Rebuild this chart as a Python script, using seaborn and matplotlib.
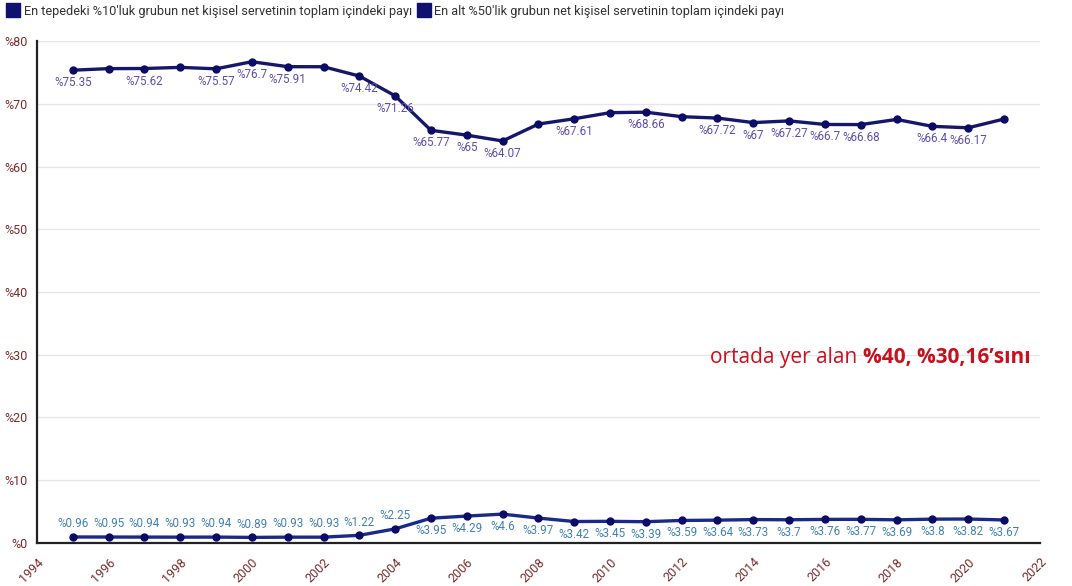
import matplotlib
matplotlib.use("Agg")
from matplotlib import pyplot as plt
from matplotlib.lines import Line2D
import numpy as np
import pandas
import seaborn as sns

# data
years = list(range(1995, 2022))
top10_share = [75.35, 75.6, 75.62, 75.8, 75.57, 76.7, 75.91, 75.9, 74.42, 71.26,
               65.77, 65.0, 64.07, 66.77, 67.61, 68.58, 68.66, 67.94, 67.72, 67.0,
               67.27, 66.7, 66.68, 67.5, 66.4, 66.17, 67.57]
top10_labels = ["%75.35", None, "%75.62", None, "%75.57", "%76.7", "%75.91", None, "%74.42", "%71.26",
                "%65.77", "%65", "%64.07", None, "%67.61", None, "%68.66", None, "%67.72", "%67",
                "%67.27", "%66.7", "%66.68", None, "%66.4", "%66.17", None]
bottom50_share = [0.96, 0.95, 0.94, 0.93, 0.94, 0.89, 0.93, 0.93, 1.22, 2.25,
                  3.95, 4.29, 4.6, 3.97, 3.42, 3.45, 3.39, 3.59, 3.64, 3.73,
                  3.7, 3.76, 3.77, 3.69, 3.8, 3.82, 3.67]
bottom50_labels = ["%0.96", "%0.95", "%0.94", "%0.93", "%0.94", "%0.89", "%0.93", "%0.93", "%1.22", "%2.25",
                   "%3.95", "%4.29", "%4.6", "%3.97", "%3.42", "%3.45", "%3.39", "%3.59", "%3.64", "%3.73",
                   "%3.7", "%3.76", "%3.77", "%3.69", "%3.8", "%3.82", "%3.67"]
series_names = ["En tepedeki %10'luk grubun net kişisel servetinin toplam içindeki payı",
                "En alt %50'lik grubun net kişisel servetinin toplam içindeki payı"]
x_ticks = list(range(1994, 2023, 2))
y_ticks = list(range(0, 81, 10))

df = pandas.DataFrame({"Yıl": years, "top": top10_share, "bottom": bottom50_share})

sns.set_style("white")
plt.rcParams['font.family'] = ['Roboto', 'DejaVu Sans']

fig = plt.figure(figsize=(10.72, 5.86), dpi=100)
ax = fig.add_axes([0.0345, 0.0734, 0.9355, 0.8566])

navy_top = "#16166a"
navy_bottom = "#1a2a8a"
sns.lineplot(data=df, x="Yıl", y="top", ax=ax, color=navy_top, linewidth=2.4,
             marker="o", markersize=6, markeredgewidth=0, markerfacecolor="#0c0c66")
sns.lineplot(data=df, x="Yıl", y="bottom", ax=ax, color=navy_bottom, linewidth=2.4,
             marker="o", markersize=6, markeredgewidth=0, markerfacecolor="#0c0c66")

# data labels
for yr, val, lab in zip(years, top10_share, top10_labels):
    if lab:
        ax.annotate(lab, (yr, val), xytext=(0, -9), textcoords="offset points",
                    ha="center", va="center", fontsize=8.4, color="#5b4db0")
for yr, val, lab in zip(years, bottom50_share, bottom50_labels):
    off = 9.5 if yr <= 2004 else -9
    ax.annotate(lab, (yr, val), xytext=(0, off), textcoords="offset points",
                ha="center", va="center", fontsize=8.4, color="#3f80b8")

# red note
t1 = ax.text(2012.8, 29.6, "ortada yer alan ", fontsize=15, color="#c8101e",
             family=["Open Sans", "DejaVu Sans"], va="center", ha="left")
ax.annotate("%40, %30,16’sını", xy=(1, 0.5), xycoords=t1, fontsize=15, color="#c8101e",
            family=["Open Sans", "DejaVu Sans"], fontweight="bold", va="center", ha="left")

ax.set_xlim(1994, 2022)
ax.set_ylim(0, 80)
ax.set_xticks(x_ticks)
ax.set_yticks(y_ticks)
ax.set_yticklabels(["%" + str(v) for v in y_ticks])
ax.set_xticklabels([str(v) for v in x_ticks], rotation=45, ha="right", rotation_mode="anchor")
ax.tick_params(axis="both", labelsize=9, labelcolor="#7a2a2a", length=5, width=1.2,
               color="#222222", direction="out", pad=2)
ax.tick_params(axis="x", pad=4)
ax.set_xlabel("")
ax.set_ylabel("")
ax.grid(axis="y", color="#e6e6e6", linewidth=1)
ax.set_axisbelow(True)
for side in ["top", "right"]:
    ax.spines[side].set_visible(False)
for side in ["left", "bottom"]:
    ax.spines[side].set_color("#222222")
    ax.spines[side].set_linewidth(1.6)

handles = [Line2D([], [], marker="s", linestyle="", markersize=10, color="#10106e")
           for _ in series_names]
fig.legend(handles, series_names, loc="upper left", bbox_to_anchor=(0.0, 1.005), ncol=2,
           frameon=False, fontsize=9.2, handletextpad=0.35, columnspacing=0.5,
           handlelength=0.9, labelcolor="#333333", borderaxespad=0.2)

fig.savefig("out.png", dpi=100)
